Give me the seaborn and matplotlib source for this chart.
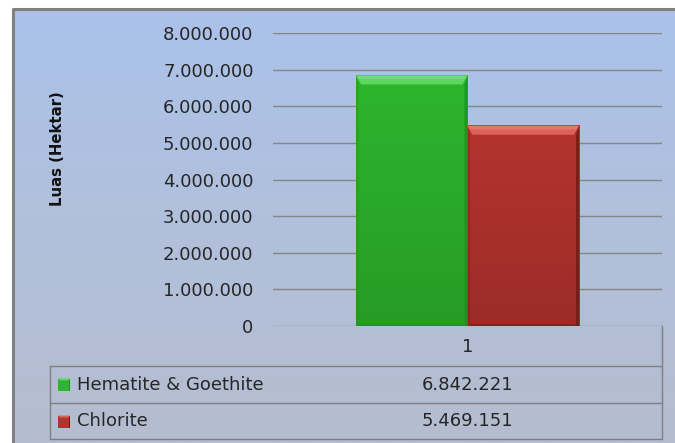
import numpy as np
import pandas as pd
import matplotlib
matplotlib.use("Agg")
import matplotlib.pyplot as plt
from matplotlib.patches import Polygon, Rectangle
from matplotlib.colors import LinearSegmentedColormap
import seaborn as sns

# ---- data ----
categories = ["1"]
series_names = ["Hematite & Goethite", "Chlorite"]
series_values = [6842221, 5469151]
value_labels = ["6.842.221", "5.469.151"]
y_ticks = [0, 1000000, 2000000, 3000000, 4000000, 5000000, 6000000, 7000000, 8000000]
y_tick_labels = ["0", "1.000.000", "2.000.000", "3.000.000", "4.000.000",
                 "5.000.000", "6.000.000", "7.000.000", "8.000.000"]
y_label = "Luas (Hektar)"

bar_colors = ["#2db52d", "#b5332f"]
bevel_light = ["#5cd85c", "#de625c"]
bevel_dark = ["#1f8f1f", "#6e1a18"]

sns.set_theme(style="white")
plt.rcParams["font.family"] = ["DejaVu Sans"]

W, H = 675, 443
fig = plt.figure(figsize=(W / 100, H / 100), dpi=100)
fig.patch.set_facecolor("white")

# background layer in pixel coordinates
bg = fig.add_axes([0, 0, 1, 1])
bg.set_xlim(0, W)
bg.set_ylim(H, 0)
bg.axis("off")
grad = np.linspace(0, 1, 256).reshape(-1, 1)
cmap = LinearSegmentedColormap.from_list("bgc", ["#abc2ea", "#b1c0dc", "#b5bdcf"])
bg.imshow(grad, cmap=cmap, aspect="auto", extent=[13, W, H, 9], zorder=0)
bg.plot([13, 13, W], [H, 9, 9], color="#808080", lw=2.2, zorder=2,
        solid_capstyle="butt")
bg.set_xlim(0, W)
bg.set_ylim(H, 0)

# main bar axes
L, R, T, B = 273, 662, 33, 326
ax = fig.add_axes([L / W, 1 - B / H, (R - L) / W, (B - T) / H])
ax.set_facecolor("none")

df = pd.DataFrame({"cat": categories * len(series_names),
                   "series": series_names,
                   "value": series_values})
sns.barplot(data=df, x="cat", y="value", hue="series", palette=bar_colors,
            width=0.573, ax=ax, legend=False, saturation=1, linewidth=0)

ax.set_ylim(0, 8000000)
ax.set_xlim(-0.5, 0.5)
ax.set_yticks(y_ticks)
ax.set_yticklabels(y_tick_labels, fontsize=13, color="#262626")
ax.tick_params(axis="y", length=0, pad=14)
ax.set_xticks([])
ax.set_xlabel("")
ax.set_ylabel("")
for s in ax.spines.values():
    s.set_visible(False)
ax.yaxis.grid(True, color="#858585", lw=1)
ax.set_axisbelow(True)

# bevel shading on each bar
px_x = 1.0 / (R - L)
px_y = 8000000 / (B - T)
bars = [p for p in ax.patches if isinstance(p, Rectangle)]
for i, p in enumerate(bars):
    x0, w, h = p.get_x(), p.get_width(), p.get_height()
    x1 = x0 + w
    bt, bs = 9 * px_y, 5 * px_x
    # vertical shade inside bar (darker toward bottom)
    shade = np.linspace(0, 1, 100).reshape(-1, 1)
    base = matplotlib.colors.to_rgb(bar_colors[i])
    dark = tuple(c * 0.86 for c in base)
    cm = LinearSegmentedColormap.from_list("s%d" % i, [dark, base])
    ax.imshow(shade, cmap=cm, aspect="auto", extent=[x0, x1, 0, h],
              origin="lower", zorder=2)
    ax.add_patch(Polygon([[x0, h], [x1, h], [x1 - bs, h - bt], [x0 + bs, h - bt]],
                         closed=True, color=bevel_light[i], lw=0, zorder=3))
    ax.add_patch(Polygon([[x0, h], [x1, h], [x1 - 0.4 * bs, h - 0.4 * bt],
                          [x0 + 0.4 * bs, h - 0.4 * bt]],
                         closed=True, color="white", alpha=0.12, lw=0, zorder=3))
    ax.add_patch(Polygon([[x1, h], [x1, 0], [x1 - 0.6 * bs, 0.5 * px_y],
                          [x1 - 0.6 * bs, h - bt]],
                         closed=True, color=bevel_dark[i], lw=0, zorder=3, alpha=0.8))
    ax.add_patch(Polygon([[x0, h], [x0, 0], [x0 + 0.5 * bs, 0.5 * px_y],
                          [x0 + 0.5 * bs, h - bt]],
                         closed=True, color=bevel_dark[i], lw=0, zorder=3, alpha=0.35))
    ax.add_patch(Polygon([[x0, 0], [x1, 0], [x1 - bs, 2 * px_y], [x0 + bs, 2 * px_y]],
                         closed=True, color=bevel_dark[i], lw=0, zorder=3, alpha=0.5))
ax.set_xlim(-0.5, 0.5)
ax.set_ylim(0, 8000000)

# y-axis title
bg.text(57, 149, y_label, rotation=90, ha="center", va="center",
        fontsize=10.7, fontweight="bold", color="#111111")

# data table below the plot
line_kw = dict(color="#7f7f7f", lw=1, zorder=3)
for yy in (366, 403, 439):
    bg.plot([50, R], [yy, yy], **line_kw)
bg.plot([R, R], [B, 439], **line_kw)
bg.plot([50, 50], [366, 439], **line_kw)

xc = (L + R) / 2
bg.text(xc, 347, categories[0], ha="center", va="center", fontsize=13, color="#262626")
rows_y = [384.5, 421.5]
for i, name in enumerate(series_names):
    yy = rows_y[i]
    bg.add_patch(Rectangle((58, yy - 6), 12, 12, color=bar_colors[i], zorder=4, lw=0))
    bg.add_patch(Polygon([[58, yy - 6], [70, yy - 6], [68, yy - 4], [60, yy - 4]],
                         color=bevel_light[i], lw=0, zorder=5))
    bg.add_patch(Polygon([[70, yy - 6], [70, yy + 6], [68.8, yy + 6], [68.8, yy - 4]],
                         color=bevel_dark[i], lw=0, zorder=5))
    bg.text(77, yy, name, ha="left", va="center", fontsize=13, color="#262626")
    bg.text(xc, yy, value_labels[i], ha="center", va="center", fontsize=13,
            color="#262626")

bg.set_xlim(0, W)
bg.set_ylim(H, 0)
fig.savefig("out.png", dpi=100)
